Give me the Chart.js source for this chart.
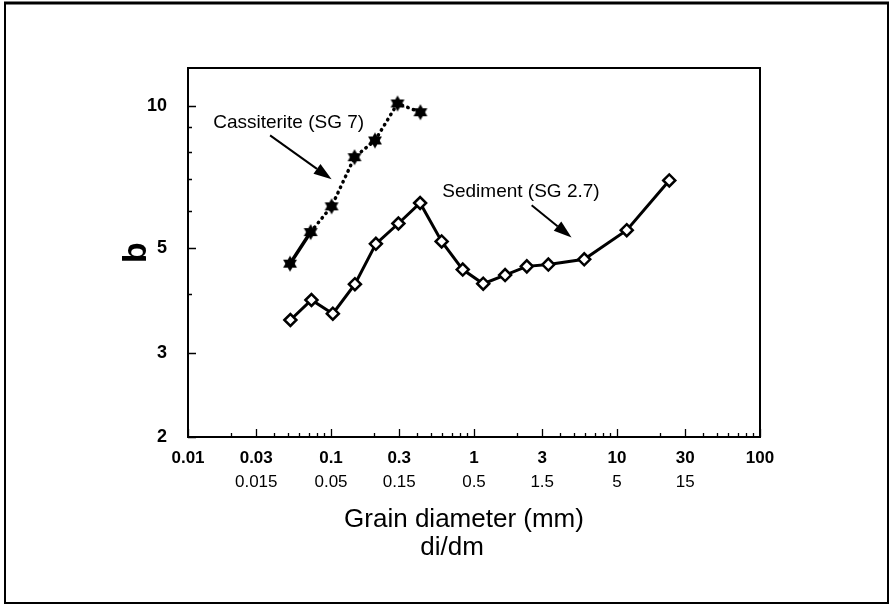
<!DOCTYPE html>
<html>
<head>
<meta charset="utf-8">
<script src="https://cdn.jsdelivr.net/npm/chart.js@4.4.1/dist/chart.umd.min.js"></script>
<style>
  html, body { margin: 0; padding: 0; background: #fff; }
  #wrap { position: relative; width: 891px; height: 606px; }
</style>
</head>
<body>
<div id="wrap"><canvas id="chart" width="891" height="606"></canvas></div>
<script>
// values: grain diameter (mm) vs b
const sedimentD = [0.052, 0.073, 0.103, 0.147, 0.206, 0.296, 0.42, 0.594, 0.834, 1.16, 1.65, 2.34, 3.31, 5.9, 11.7, 23.2];
const sedimentB = [3.53, 3.89, 3.64, 4.20, 5.11, 5.64, 6.23, 5.17, 4.51, 4.21, 4.39, 4.58, 4.62, 4.74, 5.46, 6.95];
const cassD = [0.0517, 0.0721, 0.101, 0.146, 0.203, 0.292, 0.422];
const cassB = [4.64, 5.41, 6.13, 7.78, 8.44, 10.1, 9.68];

const xTicks = [0.01, 0.03, 0.1, 0.3, 1, 3, 10, 30, 100];
const xLabels = ['0.01', '0.03', '0.1', '0.3', '1', '3', '10', '30', '100'];
const xLabels2 = ['', '0.015', '0.05', '0.15', '0.5', '1.5', '5', '15', ''];
const xMinor = [0.02, 0.04, 0.05, 0.06, 0.07, 0.08, 0.09,
                0.2, 0.4, 0.5, 0.6, 0.7, 0.8, 0.9,
                2, 4, 5, 6, 7, 8, 9,
                20, 40, 50, 60, 70, 80, 90];
const yTicks = [2, 3, 5, 10];
const yLabels = ['2', '3', '5', '10'];
const yMinor = [4, 6, 7, 8, 9];

// annotation anchors, in data units
const cassNote = { text: 'Cassiterite (SG 7)', x: 0.0150, y: 9.21, from: [0.0375, 8.65], to: [0.101, 6.99] };
const sedNote = { text: 'Sediment (SG 2.7)', x: 0.60, y: 6.57, from: [2.53, 6.16], to: [4.81, 5.27] };

const FONT = '"Liberation Sans", Arial, Helvetica, sans-serif';

function hexagram(r) {
  const s = Math.ceil(r * 2 + 2);
  const c = document.createElement('canvas');
  c.width = s; c.height = s;
  const g = c.getContext('2d');
  g.fillStyle = '#000';
  [-Math.PI / 2, Math.PI / 2].forEach(rot => {
    g.beginPath();
    for (let i = 0; i < 3; i++) {
      const a = rot + i * 2 * Math.PI / 3;
      g.lineTo(s / 2 + r * Math.cos(a), s / 2 + r * Math.sin(a));
    }
    g.closePath();
    g.fill();
  });
  return c;
}

function arrow(ctx, x0, y0, x1, y1) {
  const ang = Math.atan2(y1 - y0, x1 - x0);
  const head = 18, half = 6;
  const bx = x1 - head * Math.cos(ang), by = y1 - head * Math.sin(ang);
  ctx.beginPath();
  ctx.moveTo(x0, y0);
  ctx.lineTo(bx, by);
  ctx.lineWidth = 2;
  ctx.stroke();
  ctx.beginPath();
  ctx.moveTo(x1, y1);
  ctx.lineTo(bx + half * Math.sin(ang), by - half * Math.cos(ang));
  ctx.lineTo(bx - half * Math.sin(ang), by + half * Math.cos(ang));
  ctx.closePath();
  ctx.fill();
}

const extras = {
  id: 'extras',
  afterDraw(chart) {
    const { ctx, chartArea: a, scales: { x, y } } = chart;
    ctx.save();
    ctx.strokeStyle = '#000';
    ctx.fillStyle = '#000';

    // plot frame
    ctx.lineWidth = 2;
    ctx.strokeRect(a.left, a.top, a.right - a.left, a.bottom - a.top);

    // inward tick marks
    ctx.lineWidth = 1.3;
    ctx.beginPath();
    xTicks.forEach(v => {
      const px = Math.round(x.getPixelForValue(v)) + 0.5;
      ctx.moveTo(px, a.bottom); ctx.lineTo(px, a.bottom - 8);
    });
    xMinor.forEach(v => {
      const px = Math.round(x.getPixelForValue(v)) + 0.5;
      ctx.moveTo(px, a.bottom); ctx.lineTo(px, a.bottom - 4);
    });
    yTicks.forEach(v => {
      const py = Math.round(y.getPixelForValue(v)) + 0.5;
      ctx.moveTo(a.left, py); ctx.lineTo(a.left + 8, py);
    });
    yMinor.forEach(v => {
      const py = Math.round(y.getPixelForValue(v)) + 0.5;
      ctx.moveTo(a.left, py); ctx.lineTo(a.left + 4, py);
    });
    ctx.stroke();

    // second row of x labels (di/dm)
    ctx.font = '17px ' + FONT;
    ctx.textAlign = 'center';
    ctx.textBaseline = 'middle';
    xTicks.forEach((v, i) => {
      if (xLabels2[i]) ctx.fillText(xLabels2[i], x.getPixelForValue(v), a.bottom + 45);
    });

    // axis title
    ctx.font = '26px ' + FONT;
    ctx.fillText('Grain diameter (mm)', 464, a.bottom + 83);
    ctx.fillText('di/dm', 452, a.bottom + 111);

    // annotations
    ctx.font = '19px ' + FONT;
    ctx.textAlign = 'left';
    [cassNote, sedNote].forEach(n => {
      ctx.fillText(n.text, x.getPixelForValue(n.x), y.getPixelForValue(n.y));
      arrow(ctx, x.getPixelForValue(n.from[0]), y.getPixelForValue(n.from[1]),
                 x.getPixelForValue(n.to[0]), y.getPixelForValue(n.to[1]));
    });

    // outer figure border
    ctx.lineWidth = 2;
    ctx.strokeRect(5, 3, 883, 600);
    ctx.lineWidth = 3;
    ctx.beginPath(); ctx.moveTo(4, 3); ctx.lineTo(889, 3); ctx.stroke();
    ctx.restore();
  }
};

new Chart(document.getElementById('chart'), {
  type: 'line',
  data: {
    datasets: [
      {
        label: 'Sediment (SG 2.7)',
        data: sedimentD.map((d, i) => ({ x: d, y: sedimentB[i] })),
        borderColor: '#000',
        borderWidth: 3,
        pointStyle: 'rectRot',
        pointRadius: 6,
        pointBorderWidth: 2.5,
        pointBackgroundColor: '#fff',
        pointBorderColor: '#000',
        tension: 0,
      },
      {
        label: 'Cassiterite (SG 7)',
        data: cassD.map((d, i) => ({ x: d, y: cassB[i] })),
        borderColor: '#000',
        borderWidth: 3.5,
        borderCapStyle: 'round',
        segment: { borderDash: ctx => ctx.p0DataIndex === 0 ? undefined : [0.5, 5.5] },
        pointStyle: hexagram(8),
        tension: 0,
      },
    ],
  },
  options: {
    responsive: false,
    animation: false,
    layout: { padding: { left: 116, top: 68, right: 131, bottom: 0 } },
    plugins: { legend: { display: false }, tooltip: { enabled: false } },
    scales: {
      x: {
        type: 'logarithmic',
        min: 0.01,
        max: 100,
        afterBuildTicks: s => { s.ticks = xTicks.map(v => ({ value: v })); },
        afterFit: s => { s.height = 169; },
        grid: { display: false },
        border: { display: false },
        ticks: {
          autoSkip: false, maxRotation: 0, padding: 3, color: '#000',
          font: { family: FONT, size: 17, weight: 'bold' },
          callback: (v, i) => xLabels[i],
        },
      },
      y: {
        type: 'logarithmic',
        min: 2,
        max: 12,
        afterBuildTicks: s => { s.ticks = yTicks.map(v => ({ value: v })); },
        afterFit: s => { s.width = 72; },
        grid: { display: false },
        border: { display: false },
        ticks: {
          autoSkip: false, padding: 13, color: '#000',
          font: { family: FONT, size: 18, weight: 'bold' },
          callback: (v, i) => yLabels[i],
        },
        title: { display: true, text: 'b', color: '#000', padding: 0, font: { family: FONT, size: 34, weight: 'bold' } },
      },
    },
  },
  plugins: [extras],
});
</script>
</body>
</html>
